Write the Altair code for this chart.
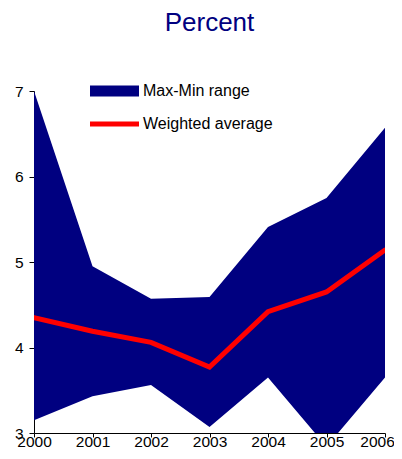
import altair as alt
import pandas as pd

years = [2000, 2001, 2002, 2003, 2004, 2005, 2006]
range_max = [7.00, 4.95, 4.57, 4.59, 5.41, 5.75, 6.57]
range_min = [3.15, 3.43, 3.56, 3.07, 3.65, 2.84, 3.65]
weighted_avg = [4.35, 4.19, 4.06, 3.77, 4.42, 4.65, 5.14]

df = pd.DataFrame({
    "year": years,
    "low": range_min,
    "high": range_max,
    "avg": weighted_avg,
    "rname": ["Max-Min range"] * len(years),
    "lname": ["Weighted average"] * len(years),
})

FONT = "Liberation Sans"

x = alt.X("year:Q",
          scale=alt.Scale(domain=[2000, 2006], nice=False, zero=False),
          axis=alt.Axis(title=None, values=years, format="d", grid=False,
                        domainColor="black", tickColor="black", tickSize=4,
                        labelPadding=-3, labelFontSize=15.5, labelFont=FONT,
                        labelColor="black", labelFlush=False,
                        labelOffset=alt.condition("datum.value == 2006", alt.value(-8), alt.value(0))))
y_axis = alt.Axis(title=None, values=[3, 4, 5, 6, 7], grid=False,
                  domainColor="black", tickColor="black", tickSize=5,
                  labelPadding=6, labelFontSize=15.5, labelFont=FONT,
                  labelColor="black")
yscale = alt.Scale(domain=[3, 7], nice=False, zero=False)

area = alt.Chart(df).mark_area(clip=True, opacity=1).encode(
    x=x,
    y=alt.Y("low:Q", scale=yscale, axis=y_axis),
    y2="high:Q",
    fill=alt.Fill("rname:N", scale=alt.Scale(range=["#000080"]),
                  legend=alt.Legend(title=None, orient="none", legendX=56, legendY=-24.5,
                                    symbolType="M-1,-0.22H1V0.22H-1Z", symbolSize=2401,
                                    symbolOpacity=1, symbolStrokeWidth=0,
                                    labelFontSize=16, labelFont=FONT, labelColor="black",
                                    labelOffset=4, padding=0)),
)

line = alt.Chart(df).mark_line(strokeWidth=5, strokeCap="round", strokeJoin="miter", clip=True).encode(
    x=x,
    y=alt.Y("avg:Q", scale=yscale, axis=y_axis),
    stroke=alt.Stroke("lname:N", scale=alt.Scale(range=["#ff0000"]),
                      legend=alt.Legend(title=None, orient="none", legendX=53.5, legendY=6,
                                        symbolType="stroke", symbolSize=2401,
                                        symbolStrokeWidth=5,
                                        labelFontSize=16, labelFont=FONT, labelColor="black",
                                        labelOffset=1.5, padding=0)),
)

chart = alt.layer(area, line).resolve_scale(fill="independent", stroke="independent").properties(
    width=351, height=342,
    autosize=alt.AutoSizeParams(type="none"),
    padding={"left": 26, "top": 83, "right": 9, "bottom": 14},
    title=alt.TitleParams("Percent", fontSize=26, font=FONT, fontWeight="normal",
                          color="#000080", anchor="middle", frame="group",
                          baseline="alphabetic", offset=9.5),
).configure_view(stroke=None)

chart.save("out.html", embed_options={"renderer": "svg", "actions": False})
